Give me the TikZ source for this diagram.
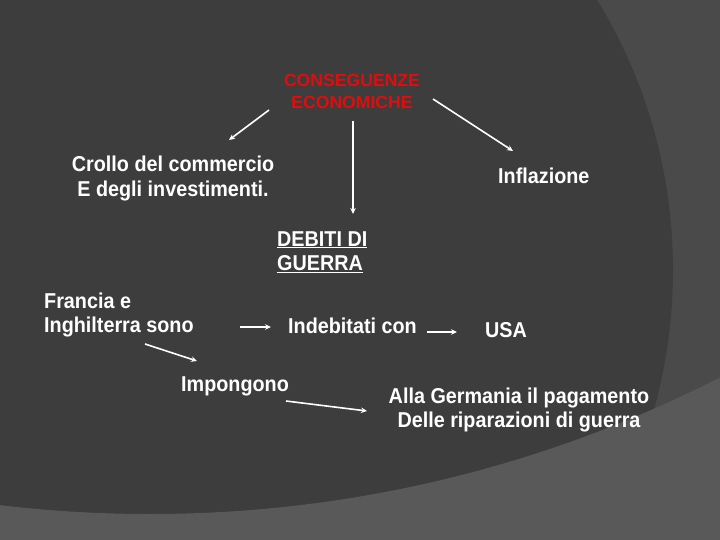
\documentclass[tikz,border=0pt]{standalone}
\usepackage{fontspec}
\setmainfont{Liberation Sans}
\newfontfamily\slidefont{Liberation Sans Bold}[FakeStretch=0.92]
\usetikzlibrary{arrows.meta}
\definecolor{bggrey}{RGB}{74,74,74}
\definecolor{discgrey}{RGB}{61,61,61}
\definecolor{bandgrey}{RGB}{89,89,89}
\definecolor{titlered}{RGB}{225,12,12}

\begin{document}
\begin{tikzpicture}[x=1pt,y=-1pt,
    txt/.style={inner sep=0pt,text=white,font=\slidefont\fontsize{21.5}{24.5}\selectfont},
    arr/.style={white,line width=1.6pt,-{Stealth[length=6pt,width=5.5pt]}}]
\useasboundingbox (0,0) rectangle (720,540);
\clip (0,0) rectangle (720,540);
% background
\fill[bggrey] (0,0) rectangle (720,540);
\fill[discgrey] (155,270) circle (518);
\fill[bandgrey,even odd rule] (-10,-10) rectangle (730,550) (150,-741) circle (1255);

\node [inner sep=0pt,anchor=base,align=center,text=titlered,%
       font=\bfseries\fontsize{17.6}{21.6}\selectfont] (cons) at (352,108.3)
{CONSEGUENZE\\ECONOMICHE};

\node [txt,anchor=base,align=center] (crollo) at (173,196.5)
{Crollo del commercio\\E degli investimenti.};
\node [txt,anchor=base west] (infl) at (498,184) {Inflazione};
\node [txt,anchor=base west,align=left] (debiti) at (277,270.7)
{\underline{DEBITI DI}\\\underline{GUERRA}};

\node [txt,anchor=base west,align=left] (francia) at (44,332.8)
{Francia e\\Inghilterra sono};
\node [txt,anchor=base west] (indeb) at (288,333) {Indebitati con};
\node [txt,anchor=base west] (usa) at (485,337) {USA};
\node [txt,anchor=base west] (impon) at (181,391) {Impongono};
\node [txt,anchor=base,align=center] (germ) at (519,427.6)
{Alla Germania il pagamento\\Delle riparazioni di guerra};

% arrows
\coordinate (c1) at (269,110); \coordinate (c2) at (229,140);
\coordinate (c3) at (353,121); \coordinate (c4) at (353,214);
\coordinate (c5) at (433,99);  \coordinate (c6) at (513,151);
\coordinate (c7) at (240,327); \coordinate (c8) at (271,327);
\coordinate (c9) at (427,332); \coordinate (c10) at (457,332);
\coordinate (c11) at (145,344); \coordinate (c12) at (197,361);
\coordinate (c13) at (286,401); \coordinate (c14) at (367,411);
\draw[arr] (c1) -- (c2);
\draw[arr] (c3) -- (c4);
\draw[arr] (c5) -- (c6);
\draw[arr] (c7) -- (c8);
\draw[arr] (c9) -- (c10);
\draw[arr] (c11) -- (c12);
\draw[arr] (c13) -- (c14);
\end{tikzpicture}
\end{document}
